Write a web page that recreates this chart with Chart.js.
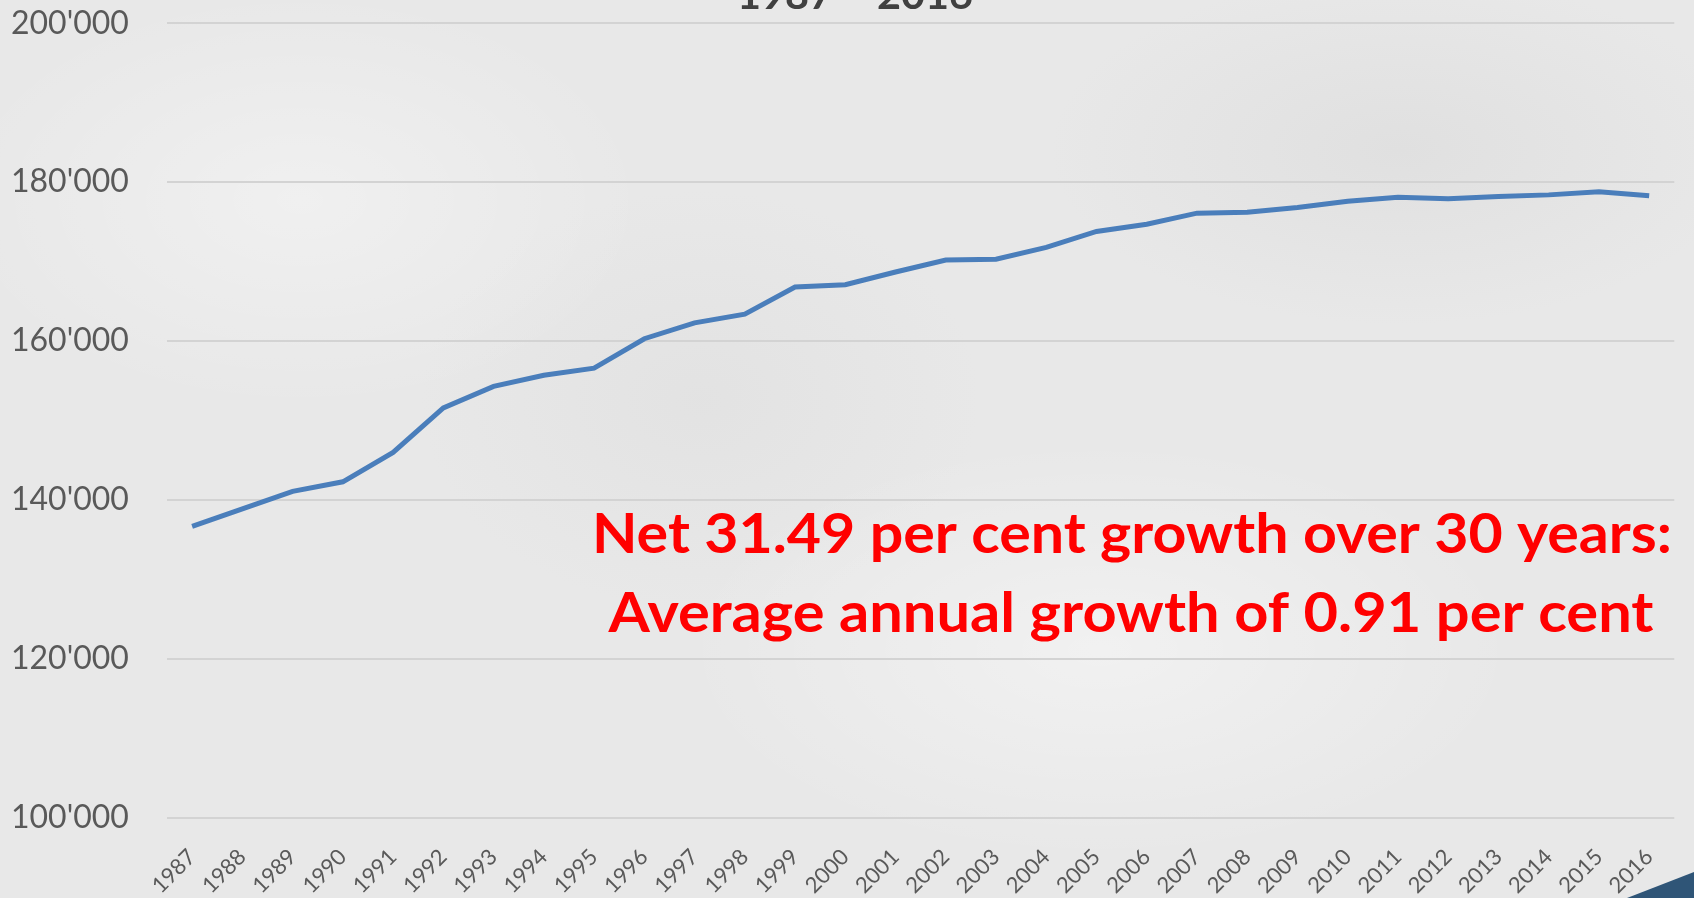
<!DOCTYPE html>
<html>
<head>
<meta charset="utf-8">
<script src="https://cdn.jsdelivr.net/npm/chart.js@4.4.1/dist/chart.umd.min.js"></script>
<style>
  html, body { margin: 0; padding: 0; overflow: hidden; }
  body {
    width: 1694px; height: 898px; position: relative;
    background:
      radial-gradient(ellipse 500px 300px at 300px 200px, rgba(255,255,255,0.35), rgba(255,255,255,0) 70%),
      radial-gradient(ellipse 600px 300px at 1100px 650px, rgba(255,255,255,0.4), rgba(255,255,255,0) 70%),
      radial-gradient(ellipse 500px 250px at 1400px 150px, rgba(200,200,200,0.25), rgba(200,200,200,0) 70%),
      radial-gradient(ellipse 400px 300px at 700px 400px, rgba(210,210,210,0.25), rgba(210,210,210,0) 70%),
      #e8e8e8;
  }
  #wrap { position: absolute; left: 0; top: 0; width: 1694px; height: 898px; }
  #corner {
    position: absolute; left: 1600px; top: 850px; width: 94px; height: 48px;
    background: #2f5577;
    clip-path: polygon(27px 48px, 94px 22px, 94px 48px);
  }
</style>
</head>
<body>
<div id="wrap"><canvas id="chart"></canvas></div>
<div id="corner"></div>
<script>
// population 1987-2016
const years = ['1987','1988','1989','1990','1991','1992','1993','1994','1995','1996',
  '1997','1998','1999','2000','2001','2002','2003','2004','2005','2006',
  '2007','2008','2009','2010','2011','2012','2013','2014','2015','2016'];
const population = [136700, 138900, 141100, 142300, 146000, 151600, 154300, 155700, 156600, 160300,
  162300, 163400, 166800, 167100, 168700, 170200, 170300, 171800, 173800, 174700,
  176100, 176200, 176800, 177600, 178100, 177900, 178200, 178400, 178800, 178300];
const yTicks = [100000, 120000, 140000, 160000, 180000, 200000];

const titleText = '1987 \u2013 2016';
const noteLines = ['Net 31.49 per cent growth over 30 years:', 'Average annual growth of 0.91 per cent'];

function fmt(v) {
  return String(v).replace(/\B(?=(\d{3})+(?!\d))/g, "'");
}

// draw text centred at cx, squeezed/stretched to width w
function fitText(ctx, txt, cx, y, w) {
  const m = ctx.measureText(txt).width;
  ctx.save();
  ctx.translate(cx, y);
  ctx.scale(w / m, 1);
  ctx.fillText(txt, 0, 0);
  ctx.restore();
}

const textPlugin = {
  id: 'texts',
  afterDraw(chart) {
    const ctx = chart.ctx;
    ctx.save();
    ctx.textAlign = 'center';
    ctx.textBaseline = 'alphabetic';
    // title, mostly cut off at the top edge
    ctx.font = 'bold 40px Lato';
    ctx.fillStyle = '#404040';
    fitText(ctx, titleText, 855, 9, 236);
    // red note
    ctx.font = 'bold 56px Lato';
    ctx.fillStyle = '#ff0000';
    fitText(ctx, noteLines[0], 1132, 553, 1080);
    fitText(ctx, noteLines[1], 1131, 632, 1045);
    ctx.restore();
  }
};

new Chart(document.getElementById('chart'), {
  type: 'line',
  data: {
    labels: years,
    datasets: [{
      data: population,
      borderColor: '#4a7ebb',
      borderWidth: 5,
      pointRadius: 0,
      tension: 0,
      fill: false
    }]
  },
  options: {
    responsive: true,
    maintainAspectRatio: false,
    animation: false,
    layout: { padding: { top: 23, right: 9, left: 11, bottom: 0 } },
    plugins: { legend: { display: false }, tooltip: { enabled: false } },
    scales: {
      x: {
        offset: true,
        grid: { display: false, drawTicks: false },
        border: { display: false },
        ticks: {
          color: '#595959',
          font: { family: 'Lato', size: 22 },
          minRotation: 45, maxRotation: 45,
          padding: 26,
          autoSkip: false
        },
        afterFit(scale) { scale.height = 80; }
      },
      y: {
        min: yTicks[0],
        max: yTicks[yTicks.length - 1],
        afterBuildTicks(scale) { scale.ticks = yTicks.map(v => ({ value: v })); },
        grid: { color: '#d3d3d3', lineWidth: 2, drawTicks: false },
        border: { display: false },
        ticks: {
          color: '#595959',
          font: { family: 'Lato', size: 32 },
          padding: 4,
          crossAlign: 'far',
          callback: v => fmt(v)
        },
        afterFit(scale) { scale.width = 156; }
      }
    }
  },
  plugins: [textPlugin]
});
</script>
</body>
</html>
